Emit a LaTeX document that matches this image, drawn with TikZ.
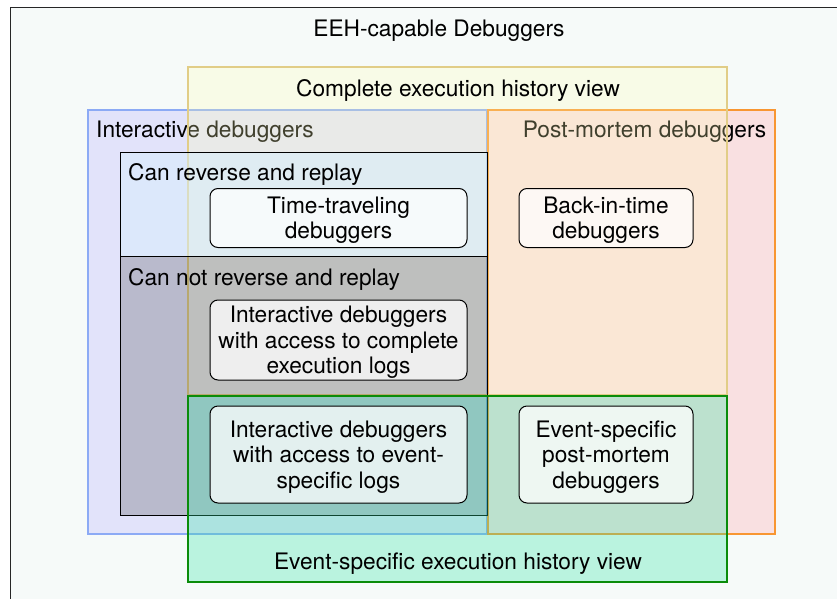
\documentclass[tikz,border=0pt]{standalone}
\usepackage{fontspec}
\setmainfont{TeX Gyre Heros}
\definecolor{bgc}{RGB}{246,250,249}
\definecolor{lav}{RGB}{226,227,250}
\definecolor{bluel}{RGB}{140,170,245}
\definecolor{pinkf}{RGB}{249,224,225}
\definecolor{orl}{RGB}{248,150,50}
\definecolor{yelf}{RGB}{255,255,180}
\definecolor{yell}{RGB}{225,205,135}
\definecolor{revf}{RGB}{215,238,252}
\definecolor{grnf}{RGB}{50,230,165}
\definecolor{grnl}{RGB}{10,140,10}
\newcommand{\topstrut}{\rule{0pt}{21pt}}
\begin{document}
\begin{tikzpicture}[x=1pt,y=-1pt,
  font=\fontsize{22.7}{25.5}\selectfont,
  lbl/.style={inner sep=0pt},
  rbox/.style={draw=black, line width=1pt, rounded corners=8pt, fill=white,
    fill opacity=0.75, text opacity=1, align=center, inner sep=0pt}]
\useasboundingbox (0,0) rectangle (837,599);
% outer frame
\fill[bgc] (10,8) rectangle (837,599);
\draw[line width=1pt, black!85] (10,599) -- (10,8) -- (837,8);
\node[lbl, anchor=base] (title) at (439,37) {EEH-capable Debuggers};
% interactive / post-mortem
\draw[draw=bluel, fill=lav, line width=2pt] (88,110) rectangle (487,534);
\draw[draw=orl, fill=pinkf, line width=2pt] (488,110) rectangle (775,534);
\node[lbl, anchor=base west] (interactive) at (96,137) {Interactive debuggers};
\node[lbl, anchor=base] (postmortem) at (644.5,137) {Post-mortem debuggers};
% complete history view
\fill[yelf, opacity=0.25] (188,67) rectangle (727,395);
\draw[yell, line width=2pt] (188,67) rectangle (727,395);
\node[lbl, anchor=base] (complete) at (458,97) {Complete execution history view};
% reverse / not reverse
\draw[black, line width=1pt, fill=revf, fill opacity=0.5] (120,152) rectangle (487,256);
\draw[black, line width=1pt, fill=black, fill opacity=0.18] (120,256) rectangle (487,515);
\node[lbl, anchor=base west] (canrev) at (128,180) {Can reverse and replay};
\node[lbl, anchor=base west] (cannot) at (128,285) {Can not reverse and replay};
% event-specific history view
\draw[draw=grnl, line width=2.5pt, fill=grnf, fill opacity=0.3] (188,396) rectangle (727,582);
\node[lbl, anchor=base] (eventview) at (458,569) {Event-specific execution history view};
% debugger kinds
\node[rbox, minimum width=257pt, minimum height=59pt] (ttd) at (338.5,218) {\topstrut Time-traveling\\debuggers};
\node[rbox, minimum width=174pt, minimum height=59pt] (bit) at (606,218) {\topstrut Back-in-time\\debuggers};
\node[rbox, minimum width=257pt, minimum height=80pt] (icl) at (338.5,340) {\topstrut Interactive debuggers\\with access to complete\\execution logs};
\node[rbox, minimum width=257pt, minimum height=97pt] (iel) at (338.5,454.5) {\topstrut Interactive debuggers\\with access to event-\\specific logs};
\node[rbox, minimum width=174pt, minimum height=97pt] (espm) at (606,454.5) {\topstrut Event-specific\\post-mortem\\debuggers};
\end{tikzpicture}
\end{document}
